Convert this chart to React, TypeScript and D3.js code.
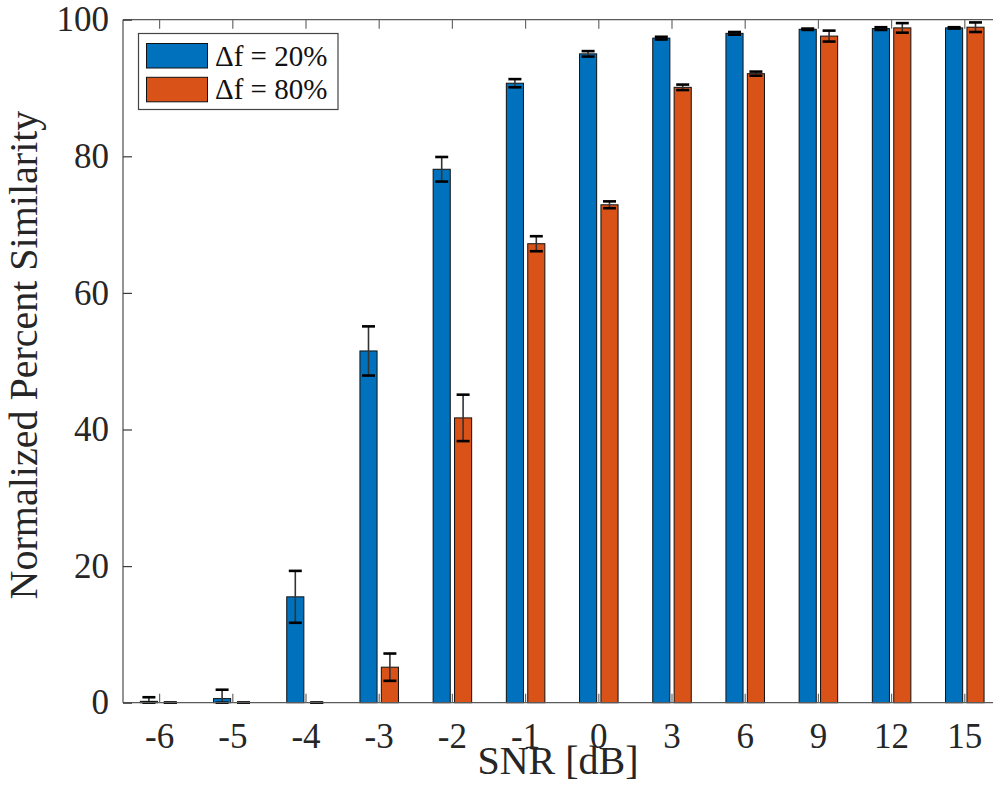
import React, { useEffect, useRef } from 'react';
import * as d3 from 'd3';

const categories = ['-6', '-5', '-4', '-3', '-2', '-1', '0', '3', '6', '9', '12', '15'];
const seriesNames = ['Δf = 20%', 'Δf = 80%'];
const mean20 = [0.2, 0.6, 15.5, 51.5, 78.1, 90.7, 95.0, 97.3, 98.0, 98.6, 98.7, 98.8];
const err20 = [0.6, 1.3, 3.8, 3.6, 1.8, 0.6, 0.4, 0.2, 0.2, 0.1, 0.2, 0.1];
const mean80 = [0, 0, 0, 5.2, 41.7, 67.2, 72.9, 90.1, 92.1, 97.6, 98.8, 98.9];
const err80 = [0, 0, 0, 2.0, 3.4, 1.1, 0.5, 0.4, 0.3, 0.8, 0.7, 0.7];
const yTicks = [0, 20, 40, 60, 80, 100];

const colors = ['#0072BD', '#D95319'];
const axisColor = '#262626';
const font = "'Liberation Serif', 'Times New Roman', serif";

const App = () => {
  const ref = useRef<SVGSVGElement>(null);

  useEffect(() => {
    const svg = d3.select(ref.current);
    svg.selectAll('*').remove();

    const left = 123, right = 1001.4, top = 19.7, bottom = 702.7;

    const x = d3.scaleBand().domain(categories).range([left, right]).padding(0);
    const inner = d3.scaleBand().domain(seriesNames).range([-21.4, 21.4]).padding(0);
    const y = d3.scaleLinear().domain([0, 100]).range([bottom, top]);
    const barW = inner.bandwidth() * 0.8;

    const series = [
      { name: seriesNames[0], mean: mean20, err: err20 },
      { name: seriesNames[1], mean: mean80, err: err80 },
    ];

    // bars
    series.forEach((s, si) => {
      const g = svg.append('g');
      g.selectAll('rect')
        .data(categories)
        .enter().append('rect')
          .attr('x', (c) => x(c)! + x.bandwidth() / 2 + inner(s.name)! + (inner.bandwidth() - barW) / 2)
          .attr('y', (c, i) => y(s.mean[i]))
          .attr('width', barW)
          .attr('height', (c, i) => y(0) - y(s.mean[i]))
          .attr('fill', colors[si])
          .attr('stroke', '#111')
          .attr('stroke-width', 1);
    });

    // error bars
    series.forEach((s) => {
      const g = svg.append('g').attr('stroke', '#000').attr('stroke-width', 1.6).attr('fill', 'none');
      categories.forEach((c, i) => {
        const cx = x(c)! + x.bandwidth() / 2 + inner(s.name)! + inner.bandwidth() / 2;
        const y1 = y(s.mean[i] + s.err[i]);
        const y0 = y(Math.max(0, s.mean[i] - s.err[i]));
        const cap = 6.5;
        g.append('line').attr('x1', cx).attr('x2', cx).attr('y1', y1).attr('y2', y0).attr('stroke', '#333');
        g.append('line').attr('x1', cx - cap).attr('x2', cx + cap).attr('y1', y1).attr('y2', y1).attr('stroke-width', 2.6);
        g.append('line').attr('x1', cx - cap).attr('x2', cx + cap).attr('y1', y0).attr('y2', y0).attr('stroke-width', 2.6);
      });
    });

    // box
    const box = svg.append('g').attr('stroke', '#5a5a5a').attr('stroke-width', 1.3);
    box.append('line').attr('x1', left).attr('x2', right).attr('y1', top).attr('y2', top);
    box.append('line').attr('x1', left).attr('x2', right).attr('y1', bottom).attr('y2', bottom);
    box.append('line').attr('x1', left).attr('x2', left).attr('y1', top).attr('y2', bottom);

    // x axis (bottom, inward ticks)
    const xAxis = d3.axisBottom(x).tickSizeInner(-9).tickSizeOuter(0).tickPadding(20);
    const gx = svg.append('g').attr('transform', `translate(0,${bottom})`).call(xAxis);
    gx.attr('font-family', null).attr('font-size', null);
    gx.select('.domain').remove();
    gx.selectAll('line').attr('stroke', '#6a6a6a').attr('stroke-width', 1.2);
    gx.selectAll('text')
      .style('font-family', font).style('font-size', '35px').attr('fill', axisColor);

    const xTop = d3.axisTop(x).tickSizeInner(-9).tickSizeOuter(0).tickFormat(() => '');
    const gxt = svg.append('g').attr('transform', `translate(0,${top})`).call(xTop);
    gxt.select('.domain').remove();
    gxt.selectAll('line').attr('stroke', '#6a6a6a').attr('stroke-width', 1.2);

    // y axis
    const yAxis = d3.axisLeft(y).tickValues(yTicks).tickSizeInner(-9).tickSizeOuter(0).tickPadding(14);
    const gy = svg.append('g').attr('transform', `translate(${left},0)`).call(yAxis);
    gy.attr('font-family', null).attr('font-size', null);
    gy.select('.domain').remove();
    gy.selectAll('line').attr('stroke', '#3a3a3a').attr('stroke-width', 1.2);
    gy.selectAll('text')
      .style('font-family', font).style('font-size', '35px').attr('fill', axisColor);

    // titles
    svg.append('text')
      .attr('x', 558).attr('y', 774)
      .attr('text-anchor', 'middle')
      .style('font-family', font).style('font-size', '40px').attr('fill', axisColor)
      .text('SNR [dB]');

    svg.append('text')
      .attr('transform', `translate(37,355) rotate(-90)`)
      .attr('text-anchor', 'middle')
      .style('font-family', font).style('font-size', '40px').attr('fill', axisColor)
      .text('Normalized Percent Similarity');

    // legend
    const lg = svg.append('g');
    lg.append('rect')
      .attr('x', 138.5).attr('y', 33.5).attr('width', 199.5).attr('height', 76)
      .attr('fill', '#fff').attr('stroke', '#444').attr('stroke-width', 1.2);
    seriesNames.forEach((name, i) => {
      const yy = 43.5 + i * 33.8;
      lg.append('rect')
        .attr('x', 146.5).attr('y', yy).attr('width', 61).attr('height', 24.5)
        .attr('fill', colors[i]).attr('stroke', '#111').attr('stroke-width', 1);
      lg.append('text')
        .attr('x', 215).attr('y', yy + 22)
        .style('font-family', font).style('font-size', '29px').attr('fill', '#111')
        .text(name);
    });
  }, []);

  return (
    <div style={{ position: 'absolute', left: 0, top: 0 }}>
      <svg ref={ref} width={993} height={807} style={{ display: 'block', background: '#fff' }} />
    </div>
  );
};

export default App;
